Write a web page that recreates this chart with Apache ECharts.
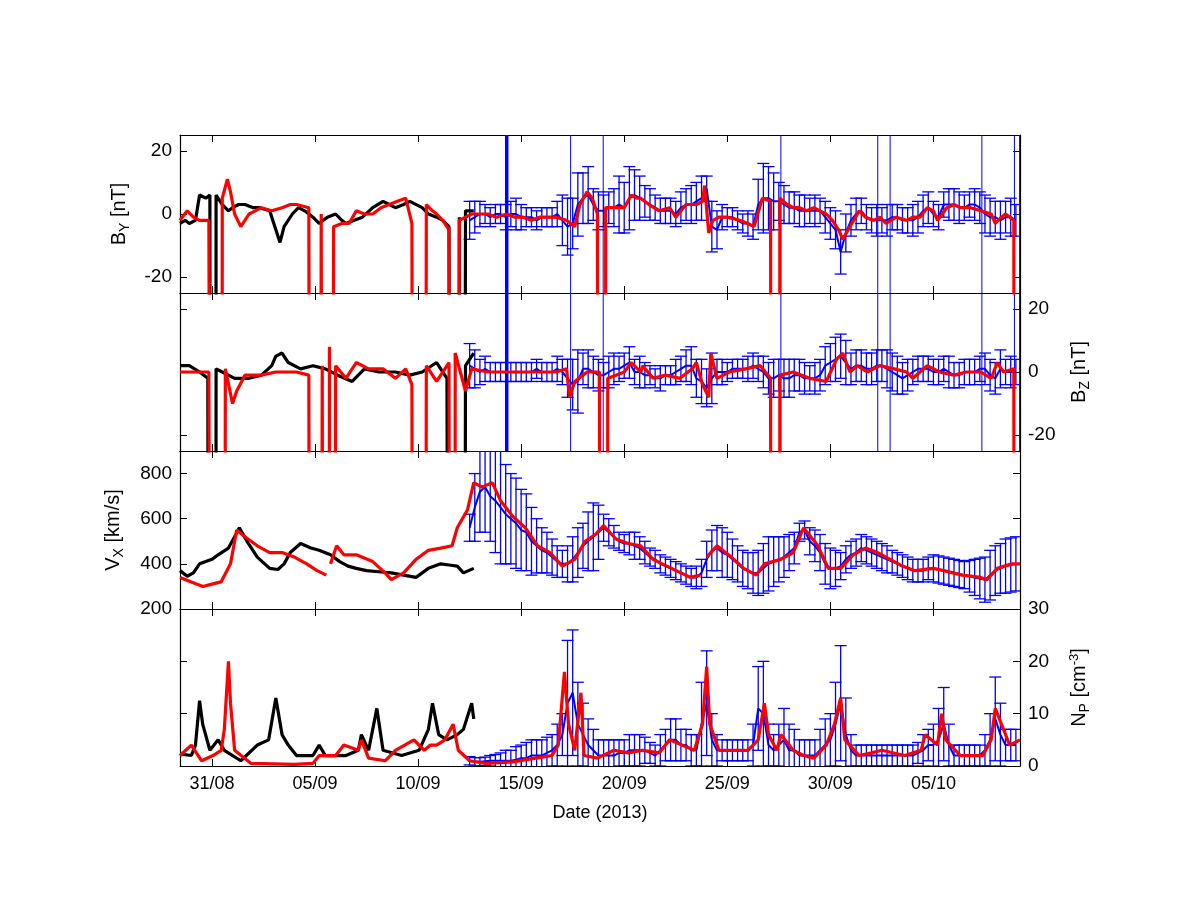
<!DOCTYPE html>
<html><head><meta charset="utf-8">
<script src="https://cdn.jsdelivr.net/npm/echarts@6/dist/echarts.min.js"></script>
<style>html,body{margin:0;padding:0;background:#fff}#c{width:1201px;height:901px}</style>
</head><body><div id="c"></div>
<script>
// x = days since 31/08/2013 00:00
const tickDays = [0,5,10,15,20,25,30,35];
const tickLabels = ['31/08','05/09','10/09','15/09','20/09','25/09','30/09','05/10'];
const FILL = -999;
const blackGaps = [0.0, 11.9];
const redGaps = [0.35, 5.0, 5.6, 10.05, 11.65, 18.95, 27.3, 39.05];
const blueWideDays = [14.3];
const blueThinDays = [17.4, 18.98, 27.6, 32.3, 32.9, 37.35, 38.93, 39.18];

const blackBy = [[-1.55,-3],[-1.3,-2],[-1.1,-3],[-0.8,-2],[-0.6,6],[-0.3,5],[-0.1,6],[0.2,6],[0.5,3],[0.8,1],[1.0,2],[1.3,3],[1.6,3],[2.0,2],[2.3,2],[2.8,1],[3.1,-5],[3.3,-9],[3.5,-4],[3.9,0],[4.2,2],[4.5,1],[4.9,-1],[5.2,-3],[5.6,-1],[6.0,0],[6.3,-2],[6.5,-3],[6.9,-2],[7.3,-1],[7.8,2],[8.3,4],[8.6,3],[8.9,2],[9.3,3],[9.6,4],[10.2,2],[10.5,0],[10.9,-1],[11.2,-2],[11.5,-4],[12.0,-1],[12.3,1],[12.7,1]];
const redBy = [[-1.55,-2],[-1.2,1],[-0.9,-1],[-0.6,-2],[-0.15,-2],[0.5,5],[0.75,11],[0.9,7],[1.1,0],[1.4,-4],[1.8,0],[2.1,1],[2.4,2],[2.9,1],[3.4,2],[3.8,3],[4.1,3],[4.7,2],[5.3,0],[5.9,-4],[6.3,-3],[6.65,-3],[7.0,1],[7.4,0],[7.8,0],[8.2,2],[8.6,3],[9.0,4],[9.4,5],[9.7,-3],[10.4,3],[10.7,1],[10.9,0],[11.2,-2],[11.5,-5],[12.0,-2],[12.3,-1],[12.6,0],[13.0,0],[13.4,0],[13.8,-1],[14.3,0],[14.7,-1],[15.1,-1],[15.5,-2],[15.9,-1],[16.3,-1],[16.7,-1],[17.2,-2],[17.6,-4],[17.85,3],[18.2,7],[18.45,5],[18.7,0],[19.1,2],[19.5,2],[20.0,2],[20.35,6],[20.6,5],[20.8,5],[21.2,3],[21.7,1],[22.2,2],[22.5,-1],[23.0,3],[23.5,3],[23.8,4],[23.9,9],[24.1,-6],[24.3,-2],[24.6,-1],[25.0,-1],[25.6,-2],[26.0,-3],[26.3,-4],[26.7,5],[27.1,4],[27.55,5],[27.9,3],[28.2,2],[28.5,2],[28.85,1],[29.2,2],[29.5,1],[29.8,0],[30.1,-2],[30.4,-5],[30.6,-8],[30.95,-4],[31.4,1],[31.7,-1],[32.1,-2],[32.4,-1],[32.7,-3],[33.2,-1],[33.7,-2],[34.0,-1],[34.35,-1],[34.7,2],[35.0,1],[35.2,-2],[35.65,2],[36.0,3],[36.3,2],[36.8,2],[37.3,1],[37.8,0],[38.0,-3],[38.3,-1],[38.5,0],[38.9,-2]];
const blackBz = [[-1.55,2],[-1.1,2],[-0.6,0],[-0.2,-2],[0.2,1],[0.5,0],[1.1,-2],[1.8,-2],[2.4,-1],[2.9,2],[3.1,5],[3.4,6],[3.7,3],[4.3,1],[4.9,2],[5.5,1],[6.1,-1],[6.8,-3],[7.4,1],[8.1,0],[8.9,0],[9.6,-1],[10.2,0],[10.9,3],[11.4,-2],[12.3,2],[12.7,6]];
const redBz = [[-1.55,0],[-0.8,0],[-0.15,0],[0.65,1],[1.0,-10],[1.2,-6],[1.6,-1],[2.4,-1],[3.1,0],[4.1,0],[4.7,-1],[5.35,2],[5.7,8],[6.0,2],[6.5,-2],[7.0,3],[7.6,1],[8.3,1],[8.9,-2],[9.4,1],[9.7,-4],[10.4,2],[10.9,-3],[11.5,3],[11.8,6],[12.3,-6],[12.6,1],[13.4,0],[14.3,0],[15.1,0],[15.9,0],[16.7,0],[17.2,1],[17.35,-8],[17.6,-3],[18.2,0],[18.8,0],[19.2,-2],[19.6,-1],[20.0,0],[20.35,3],[20.8,0],[20.9,2],[21.4,-2],[22.0,-1],[22.7,-2],[23.3,1],[23.5,3],[23.8,-4],[24.1,-8],[24.2,6],[24.5,-2],[25.1,0],[25.9,1],[26.6,2],[27.1,-2],[27.55,-1],[28.2,0],[29.0,-2],[29.8,-3],[30.3,4],[30.6,6],[30.95,0],[31.3,2],[31.8,0],[32.4,2],[33.1,1],[33.7,0],[34.0,-2],[34.7,2],[35.3,0],[36.0,-1],[36.6,0],[37.3,0],[37.8,-2],[38.1,3],[38.4,0],[38.9,1]];
const blackVx = [[-1.55,370],[-1.2,345],[-0.9,360],[-0.6,400],[-0.3,410],[0,420],[0.3,440],[0.8,470],[1.1,520],[1.33,560],[1.7,500],[2.2,430],[2.8,380],[3.2,375],[3.5,400],[3.8,450],[4.3,490],[4.8,470],[5.2,460],[5.75,440],[6.2,410],[6.6,390],[7.0,380],[7.5,370],[8.1,365],[8.7,360],[9.3,350],[9.9,340],[10.2,360],[10.5,380],[11.1,400],[11.5,395],[11.9,390],[12.2,360],[12.7,380]];
const redVx = [[-1.55,340],[-1.0,320],[-0.44,300],[0.0,310],[0.44,320],[0.9,400],[1.2,550],[1.6,520],[2.2,480],[2.8,450],[3.4,450],[4.0,430],[4.6,400],[5.1,370],[5.55,350],[5.6,null],[5.75,400],[6.05,480],[6.4,440],[7.0,440],[7.8,410],[8.4,360],[8.7,330],[9.3,360],[9.9,420],[10.5,460],[11.1,470],[11.65,480],[11.9,560],[12.4,640],[12.7,760],[13.1,740],[13.6,760],[14.0,680],[14.6,610],[15.2,560],[15.8,480],[16.4,450],[17.0,390],[17.6,420],[18.1,500],[18.6,530],[19.0,570],[19.6,510],[20.2,490],[20.8,480],[21.4,420],[22.3,380],[23.2,340],[23.7,350],[23.9,null],[24.0,430],[24.5,480],[25.2,430],[25.8,380],[26.4,350],[26.8,400],[27.6,420],[28.2,450],[28.7,560],[29.4,480],[29.9,380],[30.5,380],[31.1,440],[31.7,470],[32.3,450],[32.9,420],[33.5,390],[34.1,370],[35.0,380],[35.5,370],[36.4,350],[37.3,340],[37.6,330],[38.1,380],[38.8,400],[39.2,400]];
const blackNp = [[-1.55,2.3],[-1.0,2],[-0.8,4],[-0.6,12.5],[-0.45,8],[-0.1,3],[0.3,5],[0.6,3],[1.4,1],[2.2,4],[2.75,5],[3.1,13],[3.4,6],[3.7,4],[4.1,2],[4.9,2],[5.2,4],[5.5,2],[6.5,2],[7.1,3],[7.25,6],[7.6,3],[8.0,11],[8.3,3],[9.2,2],[10.05,3],[10.5,7],[10.7,12],[11.0,6],[11.4,5],[11.9,6],[12.2,7],[12.6,12],[12.7,9]];
const redNp = [[-1.55,2],[-1.0,4],[-0.5,1],[0.05,2],[0.45,3],[0.6,7],[0.8,20],[0.9,12],[1.1,3],[1.9,0.5],[3.0,0.4],[4.0,0.3],[4.9,0.5],[5.2,2],[6.0,2],[6.4,4],[7.1,3],[7.25,5],[7.6,1.5],[8.4,1],[8.9,3],[9.8,5],[10.3,3],[10.6,4],[10.9,4],[11.3,5],[11.7,8],[11.95,3],[12.5,1],[13.3,0.5],[14.6,0.8],[15.7,1.5],[16.5,2],[16.8,4],[17.1,18],[17.3,8],[17.6,3],[17.9,14],[18.05,2],[18.7,1.5],[19.5,3],[20.2,2.5],[20.9,3],[21.7,2.5],[22.2,5],[22.8,4],[23.4,3],[23.8,8],[24.0,19],[24.15,8],[24.6,3],[25.3,3],[26.0,3],[26.5,5],[26.8,12],[27.0,6],[27.4,3],[27.6,6],[28.2,3],[28.7,2],[29.2,1.5],[29.8,4],[30.2,8],[30.5,13],[30.7,5],[31.4,2],[32.0,2.5],[32.5,3],[33.6,2],[34.4,3],[34.6,6],[35.2,4],[35.4,10],[35.6,5],[36.3,2],[37.4,2],[37.8,5],[38.0,11],[38.3,8],[38.7,4],[39.2,5]];

const blueDays = [12.5,13,13.5,14,14.5,15,15.5,16,16.5,17,17.5,18,18.5,19,19.5,20,20.5,21,21.5,22,22.5,23,23.5,24,24.5,25,25.5,26,26.5,27,27.5,28,28.5,29,29.5,30,30.5,31,31.5,32,32.5,33,33.5,34,34.5,35,35.5,36,36.5,37,37.5,38,38.5,39];
const blueBy = [-2,0,-1,0,0,-1,-1,-1,-1,-2,-3,5,3,1,2,2,6,4,2,1,0,3,4,8,-5,-1,-2,-3,3,5,4,2,1,1,1,-3,-12,-2,1,-2,-2,-1,-2,-2,1,0,3,3,2,3,0,-1,-1,-2];
const blueByErr = [6,4,3,3,4,4,3,3,3,8,8,8,5,5,6,8,8,5,4,4,4,5,6,4,6,3,3,4,8,10,6,5,5,4,4,5,7,5,4,4,4,4,4,5,5,4,4,5,4,5,6,5,5,5];
const blueBz = [2,0,0,0,0,0,0,0,0,0,-4,1,0,-1,1,2,0,-1,-2,-1,0,2,-2,-5,0,0,1,1,1,-2,-1,-2,-1,-2,-1,3,5,1,2,1,2,0,-2,0,1,0,1,-1,0,0,1,-2,0,0];
const blueBzErr = [7,4,3,3,3,3,3,3,3,4,8,5,5,4,5,4,4,4,3,3,4,5,6,6,4,3,3,4,4,5,5,6,5,4,5,6,7,5,5,5,5,6,5,4,4,4,4,4,4,4,5,5,4,4];
const blueVx = [560,720,700,650,600,550,500,460,430,400,420,480,520,560,520,490,480,450,420,390,370,350,340,420,470,440,400,370,360,400,420,450,540,500,450,380,390,440,470,450,430,410,390,370,370,380,370,360,350,340,330,370,390,400];
const blueVxErr = [60,180,200,250,200,180,150,100,80,60,100,100,150,60,50,40,60,50,40,40,40,40,50,80,100,100,80,80,100,120,100,80,40,60,80,90,60,60,60,60,60,50,50,50,50,60,60,60,60,80,100,110,120,120];
const blueNp = [1,0.8,1,1,1,1.5,2,2,3,6,14,6,3,2,2,2.5,3,3,2,4,5,4,3,12,3,3,3,3,11,4,4,3,2,2,3,5,12,3,2,2,2,2,2,2,3,4,8,2,2,2,3,9,4,4];
const blueNpErr = [0.8,0.8,1,1.5,2,2.5,3,3,3,4,12,6,4,3,3,2.5,3,2.5,2,3,4,3,3,10,3,2,2,2,8,4,4,5,3,3,4,5,11,3,2,2,2,2,2,2,3,4,7,2,2,2,3,8,3,3];

const blueDays2 = [12.75,13.25,13.75,14.25,14.75,15.25,15.75,16.25,16.75,17.25,17.75,18.25,18.75,19.25,19.75,20.25,20.75,21.25,21.75,22.25,22.75,23.25,23.75,24.25,24.75,25.25,25.75,26.25,26.75,27.25,27.75,28.25,28.75,29.25,29.75,30.25,30.75,31.25,31.75,32.25,32.75,33.25,33.75,34.25,34.75,35.25,35.75,36.25,36.75,37.25,37.75,38.25,38.75];
const blueBy2 = [-1,0,0,-1,0,-1,-2,-1,0,-4,3,6,1,2,3,5,5,3,1,1,2,3,5,-4,-1,-1,-3,-4,5,4,3,2,1,1,-1,-5,-6,0,-1,-2,-2,-1,-2,-1,2,-1,3,2,3,2,-1,-2,-1];
const blueByErr2 = [5,3,3,4,5,3,3,3,4,9,10,9,6,5,9,10,7,5,4,4,5,6,7,8,4,3,3,4,11,9,6,5,5,5,5,6,6,5,4,5,5,4,4,5,5,4,5,5,4,5,6,6,6];
const blueBz2 = [1,1,0,0,0,0,1,0,1,-2,-3,1,-1,0,1,3,0,-1,-2,-1,1,2,-3,-2,0,1,1,2,0,-2,-2,-1,-2,-2,2,4,3,2,1,2,1,-1,-1,1,1,0,0,-1,0,1,-1,1,0];
const blueBzErr2 = [6,4,3,3,3,3,3,3,4,6,10,6,5,5,4,5,5,3,4,3,4,6,7,8,4,3,3,4,5,6,6,5,5,5,6,7,7,5,5,5,6,6,5,4,4,4,5,4,4,4,5,6,5];
const blueVx2 = [650,740,680,620,580,540,480,450,410,400,450,500,540,540,500,490,470,430,400,380,360,340,360,460,450,420,380,360,380,410,430,470,550,480,400,380,420,450,460,440,420,400,380,370,380,375,365,355,345,335,350,380,395];
const blueVxErr2 = [150,200,230,220,200,170,120,90,70,80,110,130,120,60,40,50,50,40,40,40,40,40,60,90,110,90,80,90,110,110,90,70,40,70,90,80,60,60,60,60,60,50,50,50,50,60,60,60,70,90,110,110,120];
const blueNp2 = [0.8,0.9,1,1,1.2,1.5,2,2.5,4,12,8,4,2,2,2.5,3,3,2.5,3,5,4,3,8,5,3,3,3,4,10,3,5,3,2,2,4,8,6,2,2,2,2,2,2,2.5,4,5,4,2,2,2,5,6,4];
const blueNpErr2 = [0.8,0.8,1.2,2,2.5,3,3,3,4,12,8,5,3,3,2.5,3,3,2,3,4,3,3,8,5,2,2,2,4,10,3,6,4,3,3,5,8,7,2,2,2,2,2,2,2,3,6,4,2,2,2,5,6,3];

function withGaps(pts, gaps){
  const out = pts.slice();
  gaps.forEach(g => { out.push([g-0.01, FILL], [g+0.12, FILL]); });
  return out.sort((a,b)=>a[0]-b[0]);
}
function errData(v1, e1, v2, e2){
  const a = blueDays.map((t,i)=>[t, v1[i], e1[i]]);
  const b = blueDays2.map((t,i)=>[t, v2[i], e2[i]]);
  return a.concat(b).sort((p,q)=>p[0]-q[0]);
}
function spikeData(days){ return days.map(t=>[t, 0, 5000]); }

const FONT = 'Liberation Sans';
const grids = [135,293,451,609].map((top,i)=>({left:180, right:181, top:top, height: i===3?157:158}));
const xAxes = [], yAxes = [];
const tickStyle = {show:true, inside:true, length:7, lineStyle:{color:'#000', width:1}};
for (let i=0;i<4;i++){
  xAxes.push({type:'value', gridIndex:i, position:'bottom', min:-1.55, max:39.2,
    axisLine:{onZero:false, lineStyle:{color:'#000', width:1.2}}, splitLine:{show:false},
    axisTick:Object.assign({customValues:tickDays}, tickStyle),
    axisLabel:{show:i===3, customValues:tickDays, color:'#000', fontFamily:FONT, fontSize:18, margin:9,
      formatter:v=>{const k=tickDays.indexOf(v);return k>=0?tickLabels[k]:'';}},
    name: i===3?'Date (2013)':'', nameLocation:'middle', nameGap:38,
    nameTextStyle:{color:'#000', fontFamily:FONT, fontSize:18}});
  xAxes.push({type:'value', gridIndex:i, position:'top', min:-1.55, max:39.2,
    axisLine:{onZero:false, lineStyle:{color:'#000', width:1.2}}, splitLine:{show:false},
    axisTick:Object.assign({customValues:tickDays}, tickStyle), axisLabel:{show:false}});
}
const bTicks = [-20,0,20];
const rich = {a:{fontFamily:FONT,fontSize:20,color:'#000'}, s:{fontFamily:FONT,fontSize:14,color:'#000',padding:[12,0,0,0]}, p:{fontFamily:FONT,fontSize:13,color:'#000',padding:[0,0,10,0]}};
function yax(grid, pos, min, max, ticks, showLabel, name){
  return {type:'value', gridIndex:grid, position:pos, min:min, max:max,
    axisLine:{onZero:false, show:true, lineStyle:{color:'#000', width:1.2}}, splitLine:{show:false},
    axisTick:Object.assign({customValues:ticks}, tickStyle),
    axisLabel:{show:showLabel, customValues:ticks, color:'#000', fontFamily:FONT, fontSize:19, margin:8},
    name:name||'', nameLocation:'middle', nameGap:48, nameRotate:90,
    nameTextStyle:{rich:rich}};
}
yAxes.push(yax(0,'left',-25,25,bTicks,true,'{a|B}{s|Y}{a| [nT]}'));
yAxes.push(yax(0,'right',-25,25,bTicks,false));
yAxes.push(yax(1,'left',-25,25,bTicks,false));
yAxes.push(yax(1,'right',-25,25,bTicks,true,'{a|B}{s|Z}{a| [nT]}'));
yAxes.push(yax(2,'left',200,900,[200,400,600,800],true,'{a|V}{s|X}{a| [km/s]}'));
yAxes.push(yax(2,'right',200,900,[200,400,600,800],false));
yAxes.push(yax(3,'left',0,30,[0,10,20,30],false));
yAxes.push(yax(3,'right',0,30,[0,10,20,30],true,'{a|N}{s|P}{a| [cm}{p|-3}{a|]}'));
yAxes[3].nameGap = 46; yAxes[7].nameGap = 46; yAxes[4].nameGap = 54;

function errRender(width){
  return function(params, api){
    const t=api.value(0), v=api.value(1), e=api.value(2);
    const hi=api.coord([t, v+e]), lo=api.coord([t, v-e]);
    const cap=6, st={stroke:'#0000ff', lineWidth:width};
    const ch=[{type:'line', shape:{x1:hi[0],y1:hi[1],x2:lo[0],y2:lo[1]}, style:st}];
    if (e < 1000) {
      ch.push({type:'line', shape:{x1:hi[0]-cap,y1:hi[1],x2:hi[0]+cap,y2:hi[1]}, style:st});
      ch.push({type:'line', shape:{x1:lo[0]-cap,y1:lo[1],x2:lo[0]+cap,y2:lo[1]}, style:st});
    }
    return {type:'group', children:ch};
  };
}
function lineS(xi, yi, data, color, w){
  return {type:'line', xAxisIndex:xi, yAxisIndex:yi, data:data, showSymbol:false, symbol:'none',
    lineStyle:{color:color, width:w||3.2}, clip:true, animation:false, connectNulls:false};
}
function errS(xi, yi, data, width){
  return {type:'custom', xAxisIndex:xi, yAxisIndex:yi, data:data, renderItem:errRender(width),
    clip:true, animation:false, encode:{x:0, y:1}};
}
function panel(xi, yi, black, blue, red, spikes){
  const s = [lineS(xi, yi, black, '#000'), errS(xi, yi, blue, 1.3),
    lineS(xi, yi, blue.map(p=>[p[0],p[1]]), '#0000ff', 2)];
  if (spikes) { s.push(errS(xi, yi, spikeData(blueThinDays), 1)); s.push(errS(xi, yi, spikeData(blueWideDays), 3.5)); }
  s.push(lineS(xi, yi, red, '#ff0000'));
  return s;
}
const series = [].concat(
  panel(0,0, withGaps(blackBy, blackGaps), errData(blueBy, blueByErr, blueBy2, blueByErr2), withGaps(redBy, redGaps), true),
  panel(2,2, withGaps(blackBz, blackGaps), errData(blueBz, blueBzErr, blueBz2, blueBzErr2), withGaps(redBz, redGaps), true),
  panel(4,4, blackVx, errData(blueVx, blueVxErr, blueVx2, blueVxErr2), redVx, false),
  panel(6,6, blackNp, errData(blueNp, blueNpErr, blueNp2, blueNpErr2), redNp, false)
);
const chart = echarts.init(document.getElementById('c'), null, {renderer:'canvas'});
chart.setOption({backgroundColor:'#fff', animation:false, grid:grids,
  xAxis:xAxes, yAxis:yAxes, series:series});
</script></body></html>
